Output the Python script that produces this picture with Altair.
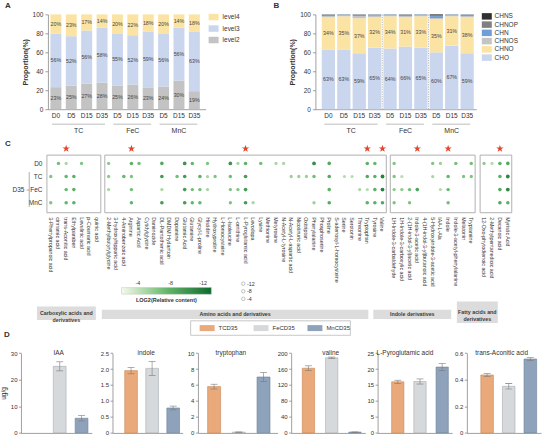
import altair as alt
import pandas as pd

W, H = 546, 436
FONT = "Liberation Sans"
INK = "#333333"
LINE = "#8c8c8c"
_ = None

# ------------------------------------------------------------------ data
SAMPLES = ["TC|D0", "TC|D5", "TC|D15", "TC|D35",
           "FeC|D5", "FeC|D15", "FeC|D35",
           "MnC|D5", "MnC|D15", "MnC|D35"]
GROUPS = ["TC", "FeC", "MnC"]
GROUP_FIRST = ["TC|D0", "FeC|D5", "MnC|D5"]
GROUP_LAST = ["TC|D35", "FeC|D35", "MnC|D35"]
GROUP_ANCHOR = ["TC|D15", "FeC|D15", "MnC|D15"]
PCT_TICKS = [0, 20, 40, 60, 80, 100]

# A: share of annotated features per level (%)
A_CLASSES = ["level2", "level3", "level4"]
A_LEVEL2 = [23, 25, 27, 28, 25, 26, 23, 24, 30, 19]
A_LEVEL3 = [56, 52, 56, 58, 55, 52, 59, 56, 56, 63]
A_LEVEL4 = [20, 23, 17, 14, 20, 22, 18, 20, 14, 18]
A_COLORS = ["#c3c3c3", "#cad6ee", "#fbe4a3"]

# B: share of features per elemental composition (%)
B_CLASSES = ["CHO", "CHNO", "CHNOS", "CHN", "CHNOP", "CHNS"]
B_CHO = [63, 63, 59, 65, 64, 66, 65, 60, 67, 59]
B_CHNO = [34, 35, 37, 32, 34, 31, 33, 35, 31, 38]
B_CHNOS = [1.2, 0.8, 2.2, 1.5, 0.8, 1.2, 0.8, 1.2, 0.8, 1.2]
B_CHN = [1.3, 1.0, 1.3, 1.2, 1.0, 1.3, 1.0, 2.0, 1.0, 1.5]
B_CHNOP = [0.3, 0.1, 0.3, 0.2, 0.1, 0.3, 0.1, 0.8, 0.1, 0.2]
B_CHNS = [0.2, 0.1, 0.2, 0.1, 0.1, 0.2, 0.1, 1.0, 0.1, 0.1]
B_COLORS = ["#cad6ee", "#fbe4a3", "#c4c4c4", "#6f9fd6", "#808080", "#303030"]

# C: LOG2(relative content) of differential metabolites
C_ROWS = ["D0", "TC", "FeC", "MnC"]

G1_COLS = ["3-Phenylpropanoic acid", "cinnamic acid", "trans-Aconitic acid",
           "Ethylparaben", "Levulinic acid", "p-Coumaric acid", "quinic acid"]
G1_D0 = [_, -7, -5, _, -6.5, _, _]
G1_TC = [-6.5, _, -7.5, -8, _, _, _]
G1_FEC = [_, _, -7.5, -8, _, _, _]
G1_MNC = [-6.5, _, -7.5, -8, _, _, _]
G1_STARS = ["trans-Aconitic acid"]

G2_COLS = ["2-Methylbutyrylglycine", "3-hydroxyhippuric acid", "4-Aminobenzoic acid",
           "Arginine", "Aspartic Acid", "Cytidylglycine", "Daminozide",
           "DL-Pantothenic acid", "DMDM Hydantoin", "Dopamine", "Glutamic Acid",
           "Glutamine", "Glycyl-L-proline", "Histidine", "Hydroxyproline",
           "L-Homocysteine", "L-Isoleucine", "L-ornithine", "L-Pyroglutamic acid",
           "Levodopa", "Lysine", "Methionine", "Metyrosine", "N-Acetyl-L-tyrosine",
           "N-Acetyl-L-aspartic acid", "Nicotinuric acid", "Oxitriptan",
           "Phenylalanine", "Phosphoserine", "Proline", "S-adenosyl-L-homocysteine",
           "Serine", "Serotonin", "Threonine", "Tryptophan", "Tyrosine", "Valine"]
G2_D0 = [-6, _, _, -8, -7, _, _, -8.5, _, _, -10, -7.5, _, -6.5, _, _, -10, -5, -8, _,
         -7, _, -5, -5, _, _, _, -10.5, _, -8.5, _, _, _, _, -8, -7.5, _]
G2_TC = [-6, _, -7.5, -6.5, _, _, _, -9.5, _, -7, -9.5, _, -8, -5, -6.5, _, -7, _, -9.5, _,
         _, _, _, _, -5.5, -5.5, -5.5, -7, _, -8.5, _, -4.5, -4.5, _, -8.5, -8, -11.5]
G2_FEC = [-5, _, _, -7, _, _, _, -5, _, _, -9.5, -7, -7, -5, _, _, -6.5, -6.5, -9.5, _,
          _, _, _, _, _, _, _, _, _, -8, _, _, _, -5, -4.5, -8, -11.5]
G2_MNC = [_, _, _, -7.5, _, _, _, -9.5, _, _, -9.5, -7.5, -7.5, _, _, _, -6.5, _, -9.5, -5,
          _, _, _, _, _, _, _, -5.5, _, -8.5, _, _, _, _, -8, -8, -8.5]
G2_STARS = ["Arginine", "L-Pyroglutamic acid", "Tryptophan", "Valine"]

G3_COLS = ["1H-Indole-3-carbaldehyde", "1H-Indole-3-carboxylic acid",
           "2-(1H-indol-3-yl)acetic acid", "Indole-3-acetic acid",
           "4-(1H-indol-3-yl)butanoic acid", "5-Hydroxyindole-3-acetic acid",
           "IAA-L-Ala", "Indole", "Indole-3-acetyl-phenylalanine", "Melatonin",
           "Tryptamine"]
G3_D0 = [-6.5, _, _, _, _, -6.5, -5.5, _, -7, _, -7]
G3_TC = [-6.5, -4.5, _, _, _, -5, _, -7.5, _, -6.5, -6.5]
G3_FEC = [-6, -6, -7, -9, _, _, -4.5, -7.5, _, _, _]
G3_MNC = [-6.5, _, -6.5, _, _, _, _, -7, _, _, _]
G3_STARS = ["Indole-3-acetic acid", "Indole"]

G4_COLS = ["12-Oxo-phytodienoic acid", "2-Methylpentanedioic acid",
           "Decanoic acid", "Myristic Acid"]
G4_D0 = [-6, -4.5, -8, -8.5]
G4_TC = [_, _, -8, -11]
G4_FEC = [_, _, -8.5, -11]
G4_MNC = [_, _, -8.5, -8]
G4_STARS = ["Decanoic acid"]

COLOR_KEY = [-4, -8, -12]
SIZE_KEY = [-12, -8, -4]
CATEGORIES = ["Carboxylic acids and\nderivatives", "Amino acids and derivatives",
              "Indole derivatives", "Fatty acids and\nderivatives"]

# D: targeted quantification at day 35 (ug/g)
D_SAMPLES = ["TCD35", "FeCD35", "MnCD35"]
D_TITLES = ["IAA", "indole", "tryptophan", "valine",
            "L-Pyroglutamic acid", "trans-Aconitic acid"]
D_MEAN = [[0, 25.0, 5.5], [1.95, 2.02, 0.78], [5.8, 0.1, 7.0],
          [162, 188, 2], [16.0, 16.1, 20.6], [0.435, 0.35, 0.555]]
D_ERR = [[0, 1.7, 1.0], [0.1, 0.22, 0.06], [0.3, 0.02, 0.55],
         [6, 2, 0.5], [0.5, 0.8, 1.1], [0.01, 0.02, 0.01]]
D_TICKS = [[0, 10, 20, 30], [0, 0.5, 1.0, 1.5, 2.0, 2.5], [0, 2, 4, 6, 8, 10],
           [0, 40, 80, 120, 160, 200], [0, 5, 10, 15, 20, 25], [0, 0.2, 0.4, 0.6]]
D_FILL = ["#e9a97b", "#d6d9db", "#8ea3bb"]
D_STROKE = ["#c98753", "#a7abae", "#6b7f97"]

# ------------------------------------------------------------------ layout
AB_TOP, AB_BOTTOM = 14, 109
# (axis x, range end, first bar centre, last bar centre, bar width)
A_PLACE = (47, 205, 55, 193.7, 11)
B_PLACE = (315, 476, 328, 467, 13.3)
GROUP_RULE_Y, GROUP_TEXT_Y = 124, 130
A_GROUP_DX = [-8, 0, 0]
B_GROUP_DX = [-8, 0, 0]

C_BOX_TOP, C_BOX_BOTTOM = 155, 212.7
C_ROW_RANGE = [163.3, 202.7]
C_STAR_Y = 148.5
C_BOXES = [(46, 100), (104, 386), (390, 475), (480, 511.7)]
CAT_BOXES = [(36, 95, 306.7, 320.3), (101, 368, 310, 319.3),
             (373, 451, 310, 319.3), (456.7, 497.7, 301.7, 323.3)]
GRAD_X, GRAD_Y, GRAD_LEN, GRAD_THICK = 120.7, 287.7, 90, 6.6

D_TOP, D_BOTTOM = 353.3, 433.3
D_PLACE = [(20, 91, 36.9, 80.7, 12.8), (111.7, 182, 130.3, 172.5, 12.7),
           (197.3, 277, 213.5, 263, 13), (290.7, 365, 308, 354.6, 12.3),
           (377.3, 452, 397.5, 442, 12.3), (466.7, 541, 487, 530.3, 12.6)]
D_TITLE_DX = [-1, -6, -8, -1, -15, -7]

STAR = ("M0,-1L0.2245,-0.309L0.9511,-0.309L0.3633,0.118L0.5878,0.809"
        "L0,0.382L-0.5878,0.809L-0.3633,0.118L-0.9511,-0.309L-0.2245,-0.309Z")


def placed_band(domain, start, end, first_c, last_c, bar_w):
    """Band scale whose bars sit at the given centres inside [start, end]."""
    n = len(domain)
    step = (last_c - first_c) / (n - 1)
    p_in = 1 - bar_w / step
    p_out = ((end - start) / step - n + p_in) / 2
    leftover = (end - start) - step * (n - p_in)
    align = (first_c - bar_w / 2 - start) / leftover
    return alt.Scale(type="band", domain=domain, range=[start, end], round=False,
                     paddingInner=p_in, paddingOuter=p_out, align=align)


def text_at(txt, x, y, size=6.5, weight="normal", align="center", color=INK):
    return alt.Chart(pd.DataFrame({"t": [txt]})).mark_text(
        fontSize=size, fontWeight=weight, align=align, baseline="middle", color=color
    ).encode(x=alt.value(x), y=alt.value(y), text="t:N")


# ------------------------------------------------------------------ A / B
def stacked_panel(classes, series, colors, labelled, place, separators=False,
                  group_dx=(0, 0, 0)):
    rows = []
    for k, (cls, vals) in enumerate(zip(classes, series)):
        for s, v in zip(SAMPLES, vals):
            rows.append({"sample": s, "cls": cls, "k": k, "pct": v,
                         "label": f"{v:g}%" if cls in labelled else ""})
    df = pd.DataFrame(rows)
    axis_x = place[0]
    xs = placed_band(SAMPLES, *place)
    ys = alt.Scale(domain=[0, 1], range=[AB_BOTTOM, AB_TOP], nice=False, zero=False)
    base = alt.Chart(df).transform_stack(
        stack="pct", groupby=["sample"], sort=[alt.SortField("k", order="ascending")],
        as_=["y0", "y1"], offset="normalize",
    ).transform_calculate(ymid="(datum.y0 + datum.y1) / 2")
    bars = base.mark_bar().encode(
        x=alt.X("sample:N", scale=xs, axis=alt.Axis(
            orient="bottom", offset=AB_BOTTOM - H, title=None, labelAngle=0,
            labelExpr="split(datum.label, '|')[1]", labelFontSize=6.5,
            labelPadding=3, ticks=False)),
        y=alt.Y("y0:Q", scale=ys, axis=alt.Axis(
            orient="left", offset=-axis_x, title="Proportion(%)",
            values=[t / 100 for t in PCT_TICKS],
            labelExpr="format(datum.value * 100, '.0f')", labelFontSize=6.5,
            tickSize=3, labelPadding=2, titleFontSize=7, titleFontWeight="bold",
            titlePadding=4)),
        y2="y1:Q",
        color=alt.Color("cls:N", scale=alt.Scale(domain=classes, range=colors), legend=None),
    )
    labels = base.transform_filter("datum.label != ''").mark_text(
        fontSize=5.3, color="#444444"
    ).encode(x=alt.X("sample:N", scale=xs), y=alt.Y("ymid:Q", scale=ys), text="label:N")
    layers = [bars, labels]

    gdf = pd.DataFrame({"group": GROUPS, "first": GROUP_FIRST, "last": GROUP_LAST,
                        "anchor": GROUP_ANCHOR})
    layers.append(alt.Chart(gdf).mark_rule(
        color="#a0a0a0", strokeWidth=0.7, xOffset=-4, x2Offset=3
    ).encode(x=alt.X("first:N", scale=xs), x2="last:N", y=alt.value(GROUP_RULE_Y)))
    for g, dx in zip(GROUPS, group_dx):
        layers.append(alt.Chart(gdf).transform_filter(f"datum.group == '{g}'").mark_text(
            fontSize=7, dx=dx, baseline="top", color=INK
        ).encode(x=alt.X("anchor:N", scale=xs), y=alt.value(GROUP_TEXT_Y - 3),
                 text="group:N"))
    if separators:
        sdf = pd.DataFrame({"after": ["TC|D35", "FeC|D35"]})
        layers.append(alt.Chart(sdf).mark_rule(
            color="#9a9a9a", strokeWidth=0.7, strokeDash=[1.2, 1.2], xOffset=1
        ).encode(x=alt.X("after:N", scale=xs, bandPosition=1),
                 y=alt.YDatum(0, scale=ys), y2=alt.Y2Datum(1)))
    return alt.layer(*layers)


def swatch_legend(names, colors, y_range, sw_x, txt_x, sw_w=10, sw_h=6.5, size=6.5):
    df = pd.DataFrame({"name": names})
    ys = alt.Scale(type="point", domain=names, range=y_range, padding=0)
    sw = alt.Chart(df).mark_tick(orient="horizontal", size=sw_w, thickness=sw_h, opacity=1).encode(
        x=alt.value(sw_x), y=alt.Y("name:N", scale=ys, axis=None),
        color=alt.Color("name:N", scale=alt.Scale(domain=names, range=colors), legend=None))
    tx = alt.Chart(df).mark_text(align="left", baseline="middle", fontSize=size, color=INK).encode(
        x=alt.value(txt_x), y=alt.Y("name:N", scale=ys), text="name:N")
    return alt.layer(sw, tx)


panel_a = stacked_panel(A_CLASSES, [A_LEVEL2, A_LEVEL3, A_LEVEL4], A_COLORS,
                        A_CLASSES, A_PLACE, group_dx=A_GROUP_DX)
legend_a = swatch_legend(A_CLASSES[::-1], A_COLORS[::-1], [16.7, 39.7], 213, 222)
panel_b = stacked_panel(B_CLASSES, [B_CHO, B_CHNO, B_CHNOS, B_CHN, B_CHNOP, B_CHNS],
                        B_COLORS, ["CHO", "CHNO"], B_PLACE, separators=True,
                        group_dx=B_GROUP_DX)
legend_b = swatch_legend(B_CLASSES[::-1], B_COLORS[::-1], [16, 57.3], 486.7, 494.5)

# ------------------------------------------------------------------ C
C_DOMAIN = [-2, -13]
C_COLOR = alt.Scale(domain=C_DOMAIN, range=["#f3faf0", "#62b86c", "#0b6a2f"])
C_SIZE = alt.Scale(domain=[-4, -12], range=[10, 15])


def dot_group(cols, rows, box, stars, y_axis=False, legend=False):
    recs = [{"compound": c, "sample": r, "log2": v}
            for r, vals in zip(C_ROWS, rows) for c, v in zip(cols, vals) if v is not None]
    df = pd.DataFrame(recs)
    xs = alt.Scale(type="band", domain=cols, range=list(box), paddingInner=0,
                   paddingOuter=0, round=False)
    ys = alt.Scale(type="point", domain=C_ROWS, range=C_ROW_RANGE, padding=0)
    frame = alt.Chart(pd.DataFrame({"first": [cols[0]], "last": [cols[-1]]})).mark_rect(
        fill="transparent", stroke="#a8a8a8", strokeWidth=0.9
    ).encode(x=alt.X("first:N", scale=xs, bandPosition=0),
             x2=alt.X2("last:N", bandPosition=1),
             y=alt.value(C_BOX_TOP), y2=alt.value(C_BOX_BOTTOM))
    leg = None
    if legend:
        leg = alt.Legend(orient="none", legendX=GRAD_X, legendY=GRAD_Y, direction="horizontal",
                         gradientLength=GRAD_LEN, gradientThickness=GRAD_THICK, padding=0,
                         title=None, labelOpacity=0, labelFontSize=1,
                         gradientStrokeWidth=0.4, gradientStrokeColor="#bbbbbb")
    y_ax = None
    if y_axis:
        y_ax = alt.Axis(orient="left", offset=-box[0], title=None, ticks=False,
                        domain=False, labelPadding=5, labelFontSize=6.5)
    dots = alt.Chart(df).mark_circle(opacity=1).encode(
        x=alt.X("compound:N", scale=xs, axis=alt.Axis(
            orient="bottom", offset=C_BOX_BOTTOM - H, title=None, labelAngle=90,
            labelAlign="left", labelBaseline="middle", labelFontSize=5.3,
            labelPadding=4, ticks=False, domain=False, labelOverlap=False,
            labelColor=INK)),
        y=alt.Y("sample:N", scale=ys, axis=y_ax),
        color=alt.Color("log2:Q", scale=C_COLOR, legend=leg),
        size=alt.Size("log2:Q", scale=C_SIZE, legend=None),
    )
    star = alt.Chart(pd.DataFrame({"compound": stars})).mark_point(
        shape=STAR, filled=True, size=62, color="#e4442a", opacity=1
    ).encode(x=alt.X("compound:N", scale=xs), y=alt.value(C_STAR_Y))
    return alt.layer(frame, dots, star)


group_1 = dot_group(G1_COLS, [G1_D0, G1_TC, G1_FEC, G1_MNC], C_BOXES[0], G1_STARS, y_axis=True)
group_2 = dot_group(G2_COLS, [G2_D0, G2_TC, G2_FEC, G2_MNC], C_BOXES[1], G2_STARS, legend=True)
group_3 = dot_group(G3_COLS, [G3_D0, G3_TC, G3_FEC, G3_MNC], C_BOXES[2], G3_STARS)
group_4 = dot_group(G4_COLS, [G4_D0, G4_TC, G4_FEC, G4_MNC], C_BOXES[3], G4_STARS)

# gradient key labels (above the bar) and its title (below)
grad_labels = [
    text_at(str(v), GRAD_X + GRAD_LEN * (v - C_DOMAIN[0]) / (C_DOMAIN[1] - C_DOMAIN[0]),
            GRAD_Y - 4.5, size=5.3)
    for v in COLOR_KEY
]
grad_title = text_at("LOG2(Relative content)", GRAD_X + GRAD_LEN / 2, GRAD_Y + 12.5,
                     size=5.5, weight="bold")

# D35 bracket next to the row labels
bracket = alt.layer(
    alt.Chart(pd.DataFrame({"r": [0]})).mark_rule(color=LINE, strokeWidth=0.7).encode(
        x=alt.value(28.3), y=alt.value(172), y2=alt.value(207)),
    alt.Chart(pd.DataFrame({"r": [0]})).mark_rule(color=LINE, strokeWidth=0.7).encode(
        x=alt.value(25.5), x2=alt.value(28.3), y=alt.value(190), y2=alt.value(190)),
    text_at("D35", 17.5, 190, size=6.5),
)

# hollow-circle key for symbol size
size_df = pd.DataFrame({"v": SIZE_KEY, "t": [str(v) for v in SIZE_KEY]})
size_y = alt.Scale(type="point", domain=SIZE_KEY, range=[283.8, 299], padding=0)
size_key = alt.layer(
    alt.Chart(size_df).mark_circle(size=12, fill="white", stroke="#9a9a9a",
                                   strokeWidth=0.6, opacity=1).encode(
        x=alt.value(242.7), y=alt.Y("v:O", scale=size_y, axis=None)),
    alt.Chart(size_df).mark_text(align="left", fontSize=5.3, color=INK).encode(
        x=alt.value(246.5), y=alt.Y("v:O", scale=size_y), text="t:N"),
)

# category banners under the compound names
banners = []
for name, (x0, x1, y0, y1) in zip(CATEGORIES, CAT_BOXES):
    one = pd.DataFrame({"name": [name]})
    banners.append(alt.Chart(one).mark_rect(color="#dcdcdc").encode(
        x=alt.value(x0), x2=alt.value(x1), y=alt.value(y0), y2=alt.value(y1)))
    banners.append(alt.Chart(one).mark_text(
        fontSize=5.3, fontWeight="bold", color="#3a3a3a", lineBreak="\n", lineHeight=6.6
    ).encode(x=alt.value((x0 + x1) / 2), y=alt.value((y0 + y1) / 2), text="name:N"))


# ------------------------------------------------------------------ D
def d_panel(i):
    ax_x = D_PLACE[i][0]
    df = pd.DataFrame({"sample": D_SAMPLES, "mean": D_MEAN[i], "err": D_ERR[i]})
    df["lo"] = df["mean"] - df["err"]
    df["hi"] = df["mean"] + df["err"]
    xs = placed_band(D_SAMPLES, *D_PLACE[i])
    ticks = D_TICKS[i]
    ys = alt.Scale(domain=[0, ticks[-1]], range=[D_BOTTOM, D_TOP], nice=False)
    digits = 1 if any(t != int(t) for t in ticks) else 0
    lab = f"datum.value == 0 ? '0' : format(datum.value, '.{digits}f')"
    y_axis = alt.Axis(orient="left", offset=-ax_x, values=ticks, labelExpr=lab,
                      labelFontSize=6, tickSize=2.5, labelPadding=1.5,
                      title="ug/g" if i == 0 else None, titleFontSize=6.5,
                      titleFontWeight="normal", titlePadding=4)
    x_axis = alt.Axis(orient="bottom", offset=D_BOTTOM - H, labels=False, ticks=False,
                      title=None)
    bars = alt.Chart(df).transform_filter("datum.mean > 0").mark_bar(strokeWidth=0.6).encode(
        x=alt.X("sample:N", scale=xs, axis=x_axis),
        y=alt.Y("mean:Q", scale=ys, axis=y_axis),
        fill=alt.Fill("sample:N", scale=alt.Scale(domain=D_SAMPLES, range=D_FILL), legend=None),
        stroke=alt.Stroke("sample:N", scale=alt.Scale(domain=D_SAMPLES, range=D_STROKE),
                          legend=None),
    )
    err = alt.Chart(df).transform_filter("datum.err > 0")
    whisker = err.mark_rule(color="#7a7a7a", strokeWidth=0.6).encode(
        x=alt.X("sample:N", scale=xs), y=alt.Y("lo:Q", scale=ys), y2="hi:Q")
    cap_hi = err.mark_tick(orient="horizontal", size=7, thickness=0.6, color="#7a7a7a",
                           opacity=1).encode(x=alt.X("sample:N", scale=xs),
                                             y=alt.Y("hi:Q", scale=ys))
    cap_lo = err.mark_tick(orient="horizontal", size=7, thickness=0.6, color="#7a7a7a",
                           opacity=1).encode(x=alt.X("sample:N", scale=xs),
                                             y=alt.Y("lo:Q", scale=ys))
    title = alt.Chart(pd.DataFrame({"t": [D_TITLES[i]], "s": [D_SAMPLES[1]]})).mark_text(
        fontSize=6.5, color=INK, dx=D_TITLE_DX[i]
    ).encode(x=alt.X("s:N", scale=xs), y=alt.value(D_TOP), text="t:N")
    return alt.layer(bars, whisker, cap_hi, cap_lo, title)


d_panels = [d_panel(i) for i in range(len(D_TITLES))]

# legend for panel D
d_key_df = pd.DataFrame({"name": D_SAMPLES})
d_key_x = alt.Scale(type="point", domain=D_SAMPLES, range=[199, 307], padding=0)
d_key = alt.layer(
    alt.Chart(pd.DataFrame({"r": [0]})).mark_rect(
        fill="white", stroke="#b0b0b0", strokeWidth=0.7
    ).encode(x=alt.value(190), x2=alt.value(350), y=alt.value(321), y2=alt.value(335.5)),
    alt.Chart(d_key_df).mark_tick(orient="horizontal", size=15, thickness=6, xOffset=7.5,
                                  opacity=1).encode(
        x=alt.X("name:N", scale=d_key_x, axis=None), y=alt.value(328.3),
        color=alt.Color("name:N", scale=alt.Scale(domain=D_SAMPLES, range=D_FILL),
                        legend=None)),
    alt.Chart(d_key_df).mark_text(align="left", fontSize=6, color=INK, dx=19).encode(
        x=alt.X("name:N", scale=d_key_x), y=alt.value(328.3), text="name:N"),
)

letters = [text_at(t, x, y, size=8, weight="bold", align="left")
           for t, x, y in (("A", 4, 6), ("B", 273, 6), ("C", 4, 144), ("D", 3, 335))]

chart = alt.layer(
    panel_a, legend_a, panel_b, legend_b,
    group_1, group_2, group_3, group_4, *grad_labels, grad_title, bracket, size_key,
    *banners, *d_panels, d_key, *letters,
).resolve_scale(
    x="independent", y="independent", color="independent", size="independent",
    fill="independent", stroke="independent",
).properties(
    width=W, height=H, padding=0, background="white",
).configure(font=FONT).configure_view(stroke=None).configure_axis(
    grid=False, labelColor=INK, titleColor=INK, domainColor="#777777",
    tickColor="#777777", domainWidth=0.7, tickWidth=0.7, labelFont=FONT, titleFont=FONT,
).configure_text(font=FONT)

chart.save("out.html", embed_options={"renderer": "svg", "actions": False})
